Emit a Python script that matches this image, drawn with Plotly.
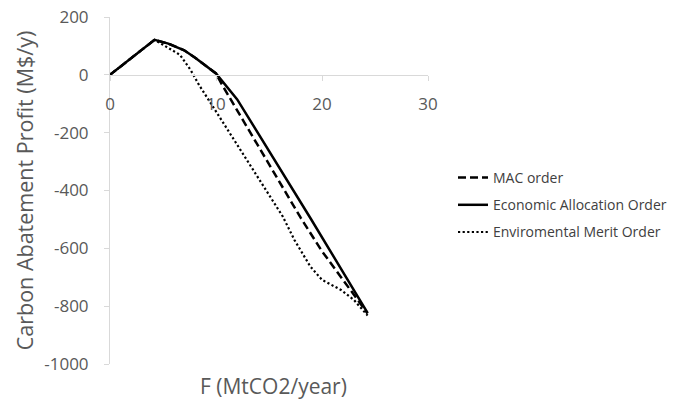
import plotly.graph_objects as go

# Data
mac_x = [0, 4.2, 5.5, 7, 8, 10, 10.5, 11.5, 18, 20, 24.3]
mac_y = [0, 121, 108, 85, 60, 5, -30, -92, -495, -610, -825]

eco_x = [0, 4.2, 5.5, 7, 8, 10, 12, 18.9, 24.3]
eco_y = [0, 121, 108, 85, 60, 5, -85, -495, -823]

env_x = [0, 4.2, 5.0, 6.6, 7.6, 8.4, 9.8, 11, 16.3, 17.4, 18.9, 20.0, 21.8, 23.0, 24.3]
env_y = [0, 121, 104, 69, 17, -35, -115, -184, -490, -571, -663, -709, -744, -778, -832]

names = ["MAC order", "Economic Allocation Order", "Enviromental Merit Order"]

y_ticks = [200, 0, -200, -400, -600, -800, -1000]
y_ticktext = ["200", "0", "-200", "-400", "-600", "-800", "-1000"]
x_ticks = [0, 10, 20, 30]

FONT = "Open Sans"
GRAY = "#595959"
AXIS = "#d9d9d9"

fig = go.Figure()
fig.add_trace(go.Scatter(x=mac_x, y=mac_y, mode="lines", name=names[0], legendgroup="a",
                         line=dict(color="black", width=2.5, dash="8px,4px")))
fig.add_trace(go.Scatter(x=eco_x, y=eco_y, mode="lines", name=names[1], legendgroup="b",
                         line=dict(color="black", width=2.5)))
fig.add_trace(go.Scatter(x=env_x, y=env_y, mode="lines", name=names[2], legendgroup="c",
                         line=dict(color="black", width=2.2, dash="2.2px,2.4px")))

fig.update_layout(
    width=675, height=400,
    margin=dict(l=110, r=247, t=17, b=36),
    paper_bgcolor="white", plot_bgcolor="white",
    font=dict(family=FONT, color=GRAY),
    showlegend=True,
    legend=dict(xref="container", yref="container", x=453/675, y=1 - 162/400,
                xanchor="left", yanchor="top",
                font=dict(size=14, color="#404040", family=FONT),
                tracegroupgap=6, bgcolor="rgba(0,0,0,0)"),
    xaxis=dict(range=[0, 30], tickvals=x_ticks, showgrid=False, zeroline=False,
               showline=True, linecolor=AXIS, linewidth=1,
               ticks="outside", ticklen=5, tickcolor=AXIS, ticklabelstandoff=9,
               tickfont=dict(size=17, color=GRAY, family=FONT),
               anchor="free", position=1000/1200, automargin=False),
    yaxis=dict(range=[-1000, 200], tickvals=y_ticks, ticktext=y_ticktext,
               showgrid=False, zeroline=False,
               showline=True, linecolor=AXIS, linewidth=1,
               ticks="outside", ticklen=5, tickcolor=AXIS, ticklabelstandoff=12,
               tickfont=dict(size=17, color=GRAY, family=FONT), automargin=False,
               title=dict(text="Carbon Abatement Profit (M$/y)",
                          font=dict(size=21.5, color=GRAY, family=FONT), standoff=4)),
    annotations=[dict(text="F (MtCO2/year)", xref="paper", yref="paper", x=0.5, y=0,
                      xanchor="center", yanchor="top", yshift=-6, xshift=4, showarrow=False,
                      font=dict(size=21, color=GRAY, family=FONT))],
)

fig.write_html("out.html")
